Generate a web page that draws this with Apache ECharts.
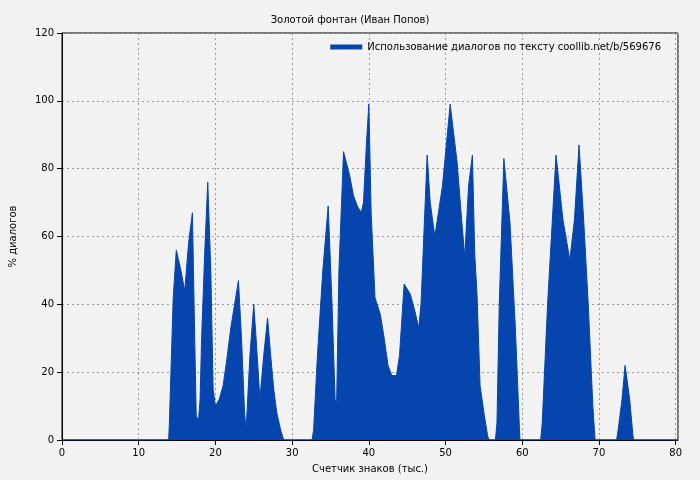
<!DOCTYPE html>
<html>
<head>
<meta charset="utf-8">
<script src="https://cdn.jsdelivr.net/npm/echarts@6/dist/echarts.min.js"></script>
<style>html,body{margin:0;background:#f2f2f2}#main{width:700px;height:480px}</style>
</head>
<body>
<div id="main"></div>
<script>
var xs = [0, 13.9, 14.0, 14.2, 14.5, 14.9, 15.5, 16.0, 16.5, 17.0, 17.3, 17.5, 17.8, 18.0, 18.2, 18.6, 19.0, 19.4, 19.7, 20.0, 20.5, 21.0, 21.5, 22.0, 22.5, 23.0, 23.4, 23.8, 24.0, 24.5, 25.0, 25.3, 25.8, 26.3, 26.8, 27.2, 27.6, 28.0, 28.5, 28.9,
  32.6, 32.8, 33.3, 34.0, 34.7, 35.2, 35.6, 35.8, 36.1, 36.7, 37.5, 38.0, 38.5, 39.0, 39.3, 39.7, 40.0, 40.3, 40.8, 41.5, 42.0, 42.5, 43.0, 43.6, 44.0, 44.6, 45.4, 46.0, 46.5, 46.8, 47.6, 48.0, 48.6, 49.6, 50.6, 51.5, 52.2, 52.5, 53.0, 53.5, 53.8, 54.1, 54.5, 55.0, 55.5, 55.7,
  56.5, 56.7, 57.0, 57.6, 58.4, 59.1, 59.6, 59.7,
  62.4, 62.6, 63.3, 64.4, 65.3, 66.2, 66.8, 67.4, 68.0, 68.6, 69.2, 69.4, 69.5,
  72.3, 72.5, 73.0, 73.4, 74.0, 74.4, 74.5, 80.3];
var ys = [0, 0, 5, 20, 42, 56, 50, 44, 58, 67, 30, 7, 6, 12, 30, 55, 76, 50, 15, 10, 12, 16, 24, 33, 40, 47, 30, 8, 3, 25, 40, 30, 12, 25, 36, 25, 15, 8, 3, 0,
  0, 3, 25, 50, 69, 40, 12, 11, 50, 85, 78, 72, 69, 67, 70, 88, 99, 67, 42, 37, 30, 22, 19, 19, 25, 46, 43, 38, 33, 40, 84, 70, 60, 75, 99, 82, 62, 54, 75, 84, 55, 43, 16, 8, 1, 0,
  0, 5, 40, 83, 64, 33, 5, 0,
  0, 5, 40, 84, 65, 53, 65, 87, 65, 40, 10, 3, 0,
  0, 3, 12, 22, 12, 2, 0, 0];
var seriesName = 'Использование диалогов по тексту coollib.net/b/569676';

var chart = echarts.init(document.getElementById('main'));
var pts = xs.map(function (x, i) { return [x, ys[i]]; });
var option = {
    backgroundColor: '#f2f2f2',
    animation: false,
    textStyle: {fontFamily: 'DejaVu Sans'},
    title: {
        text: 'Золотой фонтан (Иван Попов)',
        left: 'center', top: 10,
        textStyle: {fontSize: 10, fontWeight: 'normal', color: '#000'}
    },
    legend: {
        right: 34, top: 37,
        icon: 'rect', itemWidth: 32, itemHeight: 5,
        align: 'left',
        textStyle: {fontSize: 10, color: '#000'},
        data: [seriesName]
    },
    grid: {left: 60, right: 22, top: 33, bottom: 40, show: true, borderColor: '#000', borderWidth: 1},
    xAxis: {
        type: 'value', min: 0, max: 80.3, interval: 10,
        name: 'Счетчик знаков (тыс.)', nameLocation: 'middle', nameGap: 24,
        nameTextStyle: {fontSize: 10, color: '#000'},
        axisLine: {lineStyle: {color: '#000'}},
        axisTick: {lineStyle: {color: '#000'}},
        axisLabel: {fontSize: 10, color: '#000', showMaxLabel: false,
            formatter: function (v) { return v % 10 === 0 ? v : ''; }},
        splitLine: {show: true, lineStyle: {color: '#999', type: [2, 3]}}
    },
    yAxis: {
        type: 'value', min: 0, max: 120, interval: 20,
        name: '% диалогов', nameLocation: 'middle', nameGap: 44,
        nameTextStyle: {fontSize: 10, color: '#000'},
        axisLine: {show: true, lineStyle: {color: '#000'}},
        axisTick: {show: true, lineStyle: {color: '#000'}},
        axisLabel: {fontSize: 10, color: '#000'},
        splitLine: {show: true, lineStyle: {color: '#999', type: [2, 3]}}
    },
    series: [{
        name: seriesName,
        type: 'line',
        data: pts,
        showSymbol: false,
        color: '#0645ad',
        lineStyle: {width: 1, color: '#0645ad'},
        areaStyle: {color: '#0645ad', opacity: 1}
    }]
};
chart.setOption(option);
</script>
</body>
</html>
